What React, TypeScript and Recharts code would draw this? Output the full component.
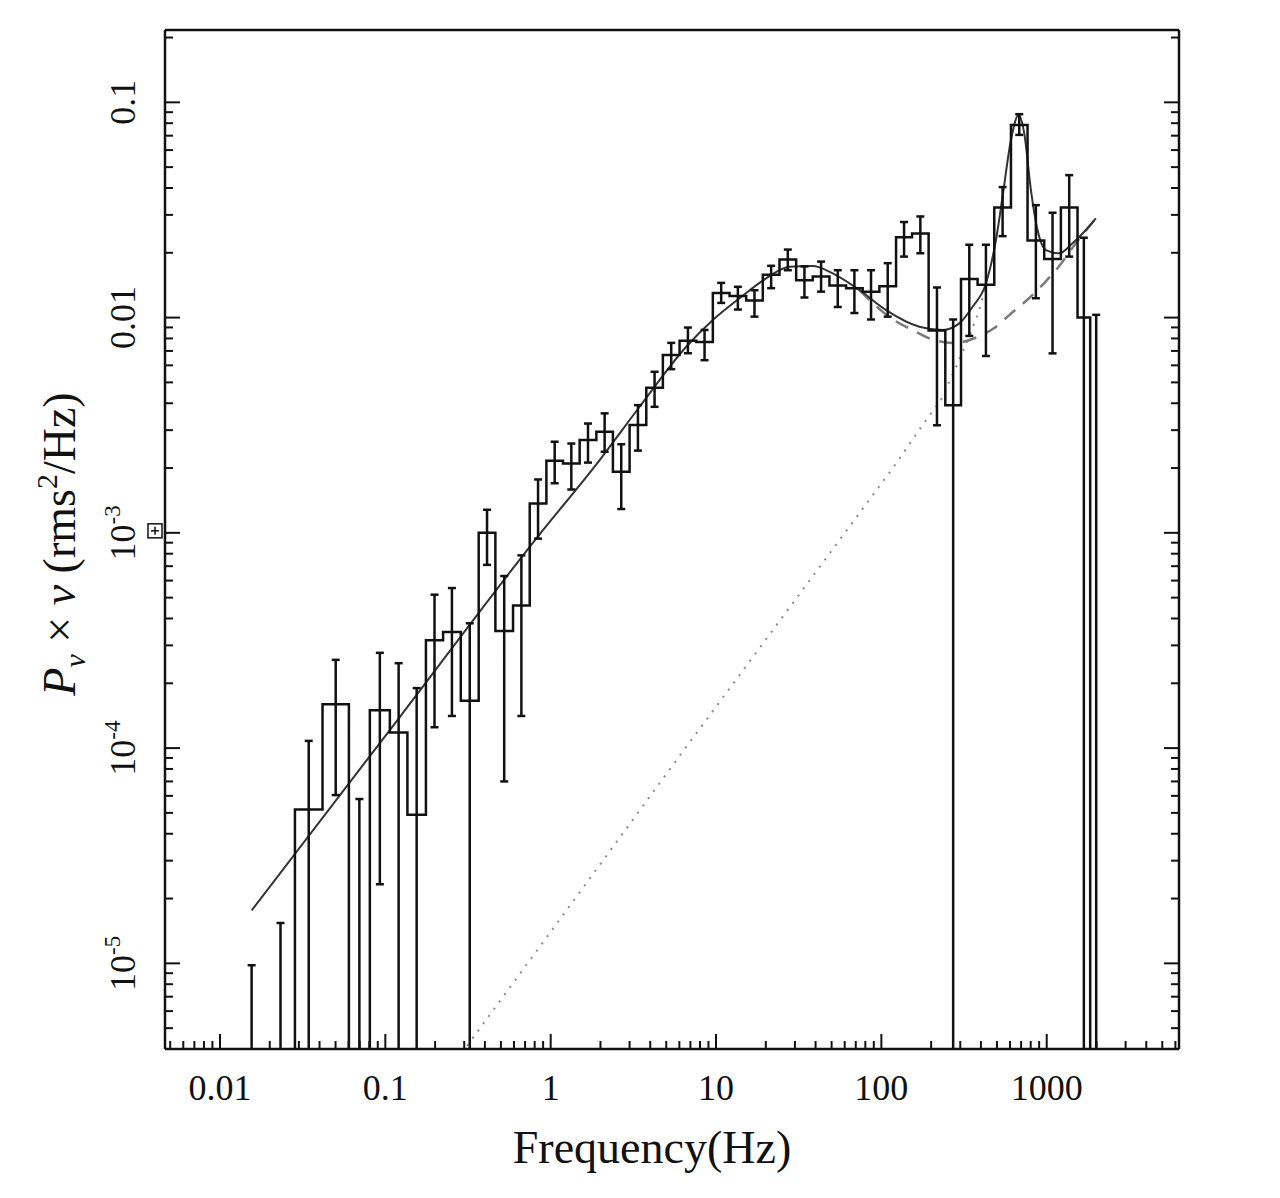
import React from "react"
import { ComposedChart, Line, Scatter, XAxis, YAxis, Label } from "recharts"

// log-rebinned power spectrum: bin edges (Hz)
const binEdges = [
  0.0127, 0.019, 0.0284, 0.0417, 0.0602, 0.0806, 0.1065, 0.136, 0.176, 0.2235,
  0.286, 0.367, 0.463, 0.592, 0.747, 0.942, 1.187, 1.497, 1.889, 2.379,
  3.001, 3.786, 4.77, 6.019, 7.595, 9.566, 12.07, 15.22, 19.18, 24.2,
  30.52, 38.45, 48.52, 61.19, 77.09, 97.25, 122.7, 153.3, 193.1, 243.6,
  303.1, 381.9, 481.7, 607.7, 765.6, 965.8, 1218, 1536, 1832, 2165,
]

// P*nu per bin; null = below the plotted range
const binPower = [
  null, null, 5.18e-5, 1.6e-4, null, 1.5e-4, 1.18e-4, 4.9e-5, 3.17e-4, 3.46e-4,
  1.66e-4, 1.0e-3, 3.5e-4, 4.6e-4, 1.37e-3, 2.16e-3, 2.1e-3, 2.7e-3, 2.95e-3, 1.92e-3,
  3.17e-3, 4.72e-3, 6.7e-3, 7.8e-3, 7.7e-3, 1.3e-2, 1.26e-2, 1.2e-2, 1.58e-2, 1.86e-2,
  1.49e-2, 1.55e-2, 1.41e-2, 1.37e-2, 1.32e-2, 1.4e-2, 2.36e-2, 2.46e-2, 8.7e-3, 3.92e-3,
  1.51e-2, 1.42e-2, 3.25e-2, 7.85e-2, 2.28e-2, 1.87e-2, 3.25e-2, 1.0e-2, null,
]

const errUpper = [
  9.8e-6, 1.54e-5, 1.08e-4, 2.57e-4, 5.8e-5, 2.77e-4, 2.48e-4, 1.9e-4, 5.16e-4, 5.54e-4,
  3.8e-4, 1.28e-3, 6.3e-4, 7.86e-4, 1.77e-3, 2.65e-3, 2.6e-3, 3.22e-3, 3.59e-3, 2.58e-3,
  3.92e-3, 5.6e-3, 7.63e-3, 8.99e-3, 8.76e-3, 1.45e-2, 1.39e-2, 1.34e-2, 1.74e-2, 2.07e-2,
  1.73e-2, 1.82e-2, 1.66e-2, 1.66e-2, 1.66e-2, 1.79e-2, 2.78e-2, 2.95e-2, 1.38e-2, 9.8e-3,
  2.18e-2, 2.18e-2, 4.04e-2, 8.81e-2, 3.33e-2, 3.07e-2, 4.59e-2, 2.35e-2, 1.03e-2,
]

// null = lower end runs off the bottom of the plot
const errLower = [
  null, null, null, 6.05e-5, null, 2.33e-5, null, null, 1.25e-4, 1.41e-4,
  null, 7.1e-4, 7.0e-5, 1.41e-4, 9.4e-4, 1.7e-3, 1.59e-3, 2.12e-3, 2.38e-3, 1.29e-3,
  2.41e-3, 3.85e-3, 5.76e-3, 6.83e-3, 6.34e-3, 1.17e-2, 1.09e-2, 1.01e-2, 1.37e-2, 1.66e-2,
  1.24e-2, 1.32e-2, 1.12e-2, 1.05e-2, 9.8e-3, 1.01e-2, 1.92e-2, 1.99e-2, 3.16e-3, null,
  8.22e-3, 6.63e-3, 2.39e-2, 7.06e-2, 1.23e-2, 6.82e-3, 1.92e-2, null, null,
]

// total model (solid)
const modelFreq = [
  0.01554, 0.1223, 0.8196, 1.978, 3.45, 6.605, 9.566, 13.87, 20.11, 27.81, 38.45,
  50.79, 73.63, 106.8, 169.7, 234.6, 296.0, 356.2, 429.2, 493.3, 540.6, 607.7,
  675.3, 731.3, 802.7, 879.7, 989, 1190, 1432, 1725, 1983,
]
const modelPower = [
  1.762e-5, 1.394e-4, 9.43e-4, 2.179e-3, 3.853e-3, 7.32e-3, 9.74e-3, 1.229e-2, 1.522e-2, 1.722e-2, 1.735e-2,
  1.606e-2, 1.343e-2, 1.084e-2, 9.07e-3, 8.76e-3, 9.4e-3, 1.123e-2, 1.443e-2, 2.293e-2, 3.642e-2, 6.68e-2,
  8.73e-2, 7.18e-2, 3.914e-2, 2.551e-2, 2.06e-2, 1.988e-2, 2.213e-2, 2.551e-2, 2.891e-2,
]

// continuum without the QPO (dashed)
const broadFreq = [73.63, 111.8, 158.3, 209.0, 276.2, 380.3, 481.7, 593.4, 784.2, 965.8, 1190, 1487, 1983]
const broadPower = [1.343e-2, 1.006e-2, 8.66e-3, 7.86e-3, 7.62e-3, 8.12e-3, 8.94e-3, 1.027e-2, 1.233e-2, 1.447e-2, 1.735e-2, 2.196e-2, 2.891e-2]

// QPO component (dotted)
const qpoFreq = [0.29, 6.019, 117.0, 186.3, 229.4, 282.8, 340.2, 391.0, 425.0]
const qpoPower = [3.83e-6, 9.19e-5, 1.994e-3, 3.342e-3, 4.14e-3, 5.91e-3, 8.15e-3, 1.084e-2, 1.372e-2]

const xTickLabels = ["0.01", "0.1", "1", "10", "100", "1000"]
const yTickLabels = ["10-5", "10-4", "10-3", "0.01", "0.1"]

const X_DOMAIN: [number, number] = [0.00465, 6310]
const Y_DOMAIN: [number, number] = [4e-6, 0.2168]
const FLOOR = 1e-7

const INK = "#111"
const FONT = '"Liberation Serif", "Times New Roman", Times, serif'
const MAJOR = 15
const MINOR = 8
const TICK_FONT = 36

const isDecade = (v: number) => Math.abs(Math.log10(v) - Math.round(Math.log10(v))) < 1e-6

function logTicks([lo, hi]: [number, number]) {
  const out: number[] = []
  for (let d = Math.floor(Math.log10(lo)); d <= Math.ceil(Math.log10(hi)); d++) {
    for (let m = 1; m <= 9; m++) {
      const v = m * Math.pow(10, d)
      if (v > lo && v < hi) out.push(v)
    }
  }
  return out
}

const xTicks = logTicks(X_DOMAIN)
const yTicks = logTicks(Y_DOMAIN)

const histogram = binEdges.map((f, i) => ({ f, v: binPower[Math.min(i, binPower.length - 1)] ?? FLOOR }))
const binCentre = binPower.map((_, i) => Math.sqrt(binEdges[i] * binEdges[i + 1]))
const errorSegments = binCentre.flatMap((f, i) => [
  { f, v: errLower[i] ?? FLOOR },
  { f, v: errUpper[i] },
  { f, v: null },
])
const errorCaps = binCentre.flatMap((f, i) =>
  errLower[i] != null ? [{ f, v: errUpper[i] }, { f, v: errLower[i] }] : [{ f, v: errUpper[i] }]
)
const model = modelFreq.map((f, i) => ({ f, v: modelPower[i] }))
const broad = broadFreq.map((f, i) => ({ f, v: broadPower[i] }))
const qpo = qpoFreq.map((f, i) => ({ f, v: qpoPower[i] }))

function BottomTick({ x, y, payload }: any) {
  const v = payload.value
  const major = isDecade(v)
  return (
    <g>
      <line x1={x} x2={x} y1={y} y2={y - (major ? MAJOR : MINOR)} stroke={INK} strokeWidth={2} />
      {major && (
        <text x={x} y={y + 51} textAnchor="middle" fontFamily={FONT} fontSize={TICK_FONT} fill={INK}>
          {xTickLabels[Math.round(Math.log10(v)) + 2]}
        </text>
      )}
    </g>
  )
}

function TopTick({ x, y, payload }: any) {
  const len = isDecade(payload.value) ? MAJOR : MINOR
  return <line x1={x} x2={x} y1={y} y2={y + len} stroke={INK} strokeWidth={2} />
}

function RightTick({ x, y, payload }: any) {
  const len = isDecade(payload.value) ? MAJOR : MINOR
  return <line x1={x} x2={x - len} y1={y} y2={y} stroke={INK} strokeWidth={2} />
}

function LeftTick({ x, y, payload }: any) {
  const v = payload.value
  const major = isDecade(v)
  const tx = x - 30
  const label = major ? yTickLabels[Math.round(Math.log10(v)) + 5] : null
  return (
    <g>
      <line x1={x} x2={x + (major ? MAJOR : MINOR)} y1={y} y2={y} stroke={INK} strokeWidth={2} />
      {label && (
        <text
          x={tx}
          y={y}
          transform={`rotate(-90 ${tx} ${y})`}
          textAnchor="middle"
          fontFamily={FONT}
          fontSize={TICK_FONT}
          fill={INK}
        >
          {label.startsWith("10-") ? (
            <>
              10
              <tspan dy={-15} fontSize={23}>
                {label.slice(2)}
              </tspan>
            </>
          ) : (
            label
          )}
        </text>
      )}
      {label === "10-3" && (
        <g stroke={INK} strokeWidth={1.5} fill="none">
          <rect x={x - 17} y={y - 9} width={14} height={14} fill="#fff" />
          <line x1={x - 14} x2={x - 6} y1={y - 2} y2={y - 2} />
          <line x1={x - 10} x2={x - 10} y1={y - 6} y2={y + 2} />
        </g>
      )}
    </g>
  )
}

const XTitle = () => (
  <text x={644} y={1155} textAnchor="middle" fontFamily={FONT} fontSize={46} fill={INK}>
    Frequency(Hz)
  </text>
)

const YTitle = () => (
  <text x={67} y={536} transform="rotate(-90 67 536)" textAnchor="middle" fontFamily={FONT} fontSize={46} fill={INK}>
    <tspan fontStyle="italic">P</tspan>
    <tspan fontStyle="italic" fontSize={30} dy={10}>
      ν
    </tspan>
    <tspan dy={-10}> × </tspan>
    <tspan fontStyle="italic">ν</tspan>
    <tspan> (rms</tspan>
    <tspan fontSize={30} dy={-18}>
      2
    </tspan>
    <tspan dy={18}>/Hz)</tspan>
  </text>
)

const frame = { stroke: INK, strokeWidth: 2.5 }

const Cap = ({ cx, cy }: any) => <line x1={cx - 4} x2={cx + 4} y1={cy} y2={cy} stroke={INK} strokeWidth={2.5} />

export default function App() {
  return (
    <ComposedChart width={1264} height={1182} margin={{ top: 21, right: 92, bottom: 0, left: 0 }}>
      <XAxis
        xAxisId="x"
        dataKey="f"
        type="number"
        scale="log"
        domain={X_DOMAIN}
        allowDataOverflow
        ticks={xTicks}
        interval={0}
        tickSize={0}
        tickMargin={0}
        tickLine={false}
        tick={(p: any) => <BottomTick {...p} />}
        axisLine={frame}
        height={141}
      >
        <Label content={() => <XTitle />} />
      </XAxis>
      <XAxis
        xAxisId="xt"
        orientation="top"
        type="number"
        scale="log"
        domain={X_DOMAIN}
        allowDataOverflow
        ticks={xTicks}
        interval={0}
        tickSize={0}
        tickMargin={0}
        tickLine={false}
        tick={(p: any) => <TopTick {...p} />}
        axisLine={frame}
        height={1}
      />
      <YAxis
        yAxisId="y"
        dataKey="v"
        type="number"
        scale="log"
        domain={Y_DOMAIN}
        allowDataOverflow
        ticks={yTicks}
        interval={0}
        tickSize={0}
        tickMargin={0}
        tickLine={false}
        tick={(p: any) => <LeftTick {...p} />}
        axisLine={frame}
        width={157}
      >
        <Label content={() => <YTitle />} />
      </YAxis>
      <YAxis
        yAxisId="yr"
        orientation="right"
        type="number"
        scale="log"
        domain={Y_DOMAIN}
        allowDataOverflow
        ticks={yTicks}
        interval={0}
        tickSize={0}
        tickMargin={0}
        tickLine={false}
        tick={(p: any) => <RightTick {...p} />}
        axisLine={frame}
        width={1}
      />

      <Line xAxisId="x" yAxisId="y" data={qpo} dataKey="v" type="linear" stroke="#8a8a8a" strokeWidth={2} strokeDasharray="2 7" dot={false} isAnimationActive={false} />
      <Line xAxisId="x" yAxisId="y" data={broad} dataKey="v" type="monotone" stroke="#7a7a7a" strokeWidth={2.5} strokeDasharray="14 10" dot={false} isAnimationActive={false} />
      <Line xAxisId="x" yAxisId="y" data={model} dataKey="v" type="monotone" stroke="#333" strokeWidth={2} dot={false} isAnimationActive={false} />
      <Line xAxisId="x" yAxisId="y" data={histogram} dataKey="v" type="stepAfter" stroke={INK} strokeWidth={2.5} dot={false} isAnimationActive={false} />
      <Line xAxisId="x" yAxisId="y" data={errorSegments} dataKey="v" type="linear" stroke={INK} strokeWidth={2.5} dot={false} isAnimationActive={false} />
      <Scatter xAxisId="x" yAxisId="y" data={errorCaps} dataKey="v" shape={(p: any) => <Cap {...p} />} isAnimationActive={false} />
    </ComposedChart>
  )
}
